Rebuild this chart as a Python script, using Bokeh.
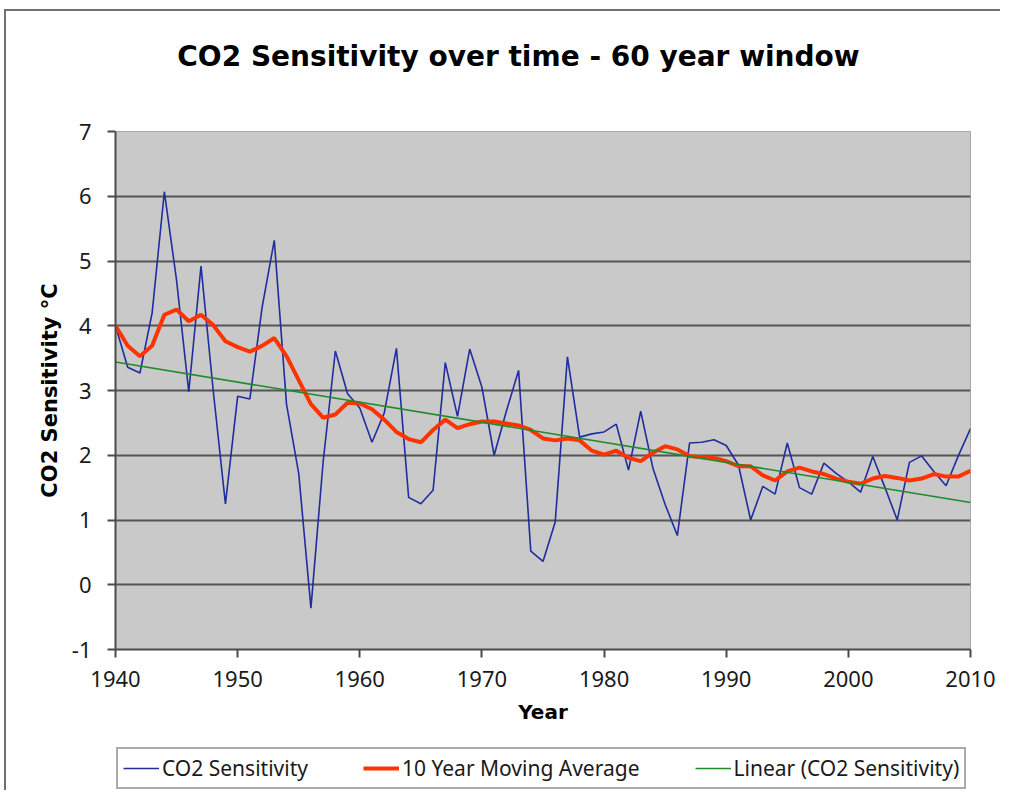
from bokeh.plotting import figure
from bokeh.layouts import column
from bokeh.models import Legend, LegendItem, FixedTicker, Range1d, PrintfTickFormatter, Label
from bokeh.embed import file_html
from bokeh.resources import INLINE

years = list(range(1940, 2011))
sensitivity = [
    4.00, 3.36, 3.27, 4.20, 6.07, 4.70, 2.98, 4.92, 3.00, 1.25,
    2.91, 2.87, 4.28, 5.32, 2.79, 1.72, -0.36, 1.90, 3.61, 2.95,
    2.73, 2.20, 2.65, 3.65, 1.35, 1.25, 1.46, 3.43, 2.60, 3.64,
    3.05, 2.00, 2.68, 3.31, 0.52, 0.36, 0.97, 3.52, 2.28, 2.33,
    2.36, 2.48, 1.77, 2.68, 1.80, 1.24, 0.76, 2.19, 2.20, 2.24,
    2.15, 1.85, 1.00, 1.52, 1.40, 2.19, 1.50, 1.40, 1.88, 1.72,
    1.59, 1.43, 1.98, 1.50, 1.00, 1.89, 1.99, 1.75, 1.53, 1.99,
    2.41,
]
moving_avg = [
    4.00, 3.69, 3.53, 3.69, 4.17, 4.25, 4.07, 4.17, 4.01, 3.76,
    3.67, 3.60, 3.69, 3.81, 3.53, 3.16, 2.79, 2.58, 2.63, 2.81,
    2.80, 2.71, 2.55, 2.36, 2.25, 2.20, 2.39, 2.55, 2.42, 2.48,
    2.52, 2.52, 2.49, 2.46, 2.39, 2.26, 2.23, 2.26, 2.23, 2.07,
    2.01, 2.07, 1.96, 1.91, 2.04, 2.14, 2.09, 1.99, 1.97, 1.96,
    1.91, 1.83, 1.83, 1.69, 1.61, 1.75, 1.81, 1.75, 1.71, 1.64,
    1.59, 1.56, 1.64, 1.68, 1.65, 1.61, 1.64, 1.71, 1.67, 1.67,
    1.76,
]
trend_years = [1940, 2010]
trend_vals = [3.44, 1.27]
x_ticks = [1940, 1950, 1960, 1970, 1980, 1990, 2000, 2010]
y_ticks = [-1, 0, 1, 2, 3, 4, 5, 6, 7]

title_text = "CO2 Sensitivity over time - 60 year window"
x_label = "Year"
y_label = "CO2 Sensitivity °C"
series_names = ["CO2 Sensitivity", "10 Year Moving Average", "Linear (CO2 Sensitivity)"]
series_colors = ["#1f2d9e", "#ff3300", "#1e8c28"]
series_widths = [1.6, 4, 1.6]

FONT = "Noto Sans"
BOLD_FONT = "DejaVu Sans"


def blank_strip(height):
    f = figure(width=994, height=height, output_backend="svg", toolbar_location=None,
               x_range=Range1d(1940, 2010), y_range=Range1d(100, 101),
               x_axis_type=None, y_axis_type=None,
               min_border_left=0, min_border_right=0,
               min_border_top=0, min_border_bottom=0)
    f.outline_line_color = None
    f.grid.grid_line_color = None
    f.background_fill_color = "white"
    f.border_fill_color = "white"
    return f


# title strip
p0 = blank_strip(90)
p0.add_layout(Label(x=403, y=45, x_units="screen", y_units="screen", text=title_text,
                    text_font=BOLD_FONT, text_font_style="bold", text_font_size="28px",
                    text_align="center", text_baseline="middle", text_color="black"))

# main chart
p = figure(frame_width=855, frame_height=518, output_backend="svg", toolbar_location=None,
           x_range=Range1d(1940, 2010), y_range=Range1d(-1, 7),
           min_border_left=109, min_border_right=30,
           min_border_top=30, min_border_bottom=95)
p.title.text = ""

p.background_fill_color = "#c9c9c9"
p.border_fill_color = "white"
p.outline_line_color = "#a8a8a8"
p.outline_line_width = 1

p.xgrid.grid_line_color = None
p.ygrid.grid_line_color = "#555555"
p.ygrid.grid_line_width = 2

p.xaxis.ticker = FixedTicker(ticks=x_ticks)
p.yaxis.ticker = FixedTicker(ticks=y_ticks)
p.yaxis.formatter = PrintfTickFormatter(format="%d")
for ax in (p.xaxis[0], p.yaxis[0]):
    ax.axis_line_color = "#4a4a4a"
    ax.axis_line_width = 2
    ax.major_tick_line_color = "#4a4a4a"
    ax.major_tick_line_width = 2
    ax.major_tick_in = 0
    ax.major_tick_out = 8
    ax.minor_tick_line_color = None
    ax.major_label_text_font = FONT
    ax.major_label_text_font_size = "22px"
    ax.major_label_text_color = "#1a1a1a"
    ax.axis_label_text_font = BOLD_FONT
    ax.axis_label_text_font_style = "bold"
    ax.axis_label_text_color = "black"
p.xaxis.axis_label_text_font_size = "20px"
p.yaxis.axis_label_text_font_size = "21px"

p.xaxis.axis_label = x_label
p.yaxis.axis_label = y_label
p.xaxis.major_label_standoff = 13
p.xaxis.axis_label_standoff = 10
p.yaxis.major_label_standoff = 16
p.yaxis.axis_label_standoff = 7

p.line(years, sensitivity, line_color=series_colors[0], line_width=series_widths[0])
p.line(years, moving_avg, line_color=series_colors[1], line_width=series_widths[1])
p.line(trend_years, trend_vals, line_color=series_colors[2], line_width=series_widths[2])

# legend strip (series drawn out of view, used only as legend proxies)
p2 = blank_strip(46)
proxy = [
    p2.line(years, sensitivity, line_color=series_colors[0], line_width=series_widths[0]),
    p2.line(years, moving_avg, line_color=series_colors[1], line_width=series_widths[1]),
    p2.line(trend_years, trend_vals, line_color=series_colors[2], line_width=series_widths[2]),
]
legend = Legend(items=[LegendItem(label=n, renderers=[r])
                       for n, r in zip(series_names, proxy)],
                orientation="horizontal", location=(1, 1))
legend.label_text_font = FONT
legend.label_text_font_size = "21px"
legend.label_text_color = "#1a1a1a"
legend.glyph_width = 36
legend.glyph_height = 20
legend.label_standoff = 3
legend.spacing = 55
legend.padding = 5
legend.margin = 0
legend.border_line_color = "#555555"
legend.border_line_width = 2
legend.background_fill_color = "white"
legend.background_fill_alpha = 1
p2.add_layout(legend)

layout = column(p0, p, p2, spacing=0)
layout.styles = {"margin-left": "4px", "margin-top": "9px",
                 "border-top": "2px solid #707070", "border-left": "2px solid #707070"}

open("out.html", "w").write(file_html(layout, INLINE))
